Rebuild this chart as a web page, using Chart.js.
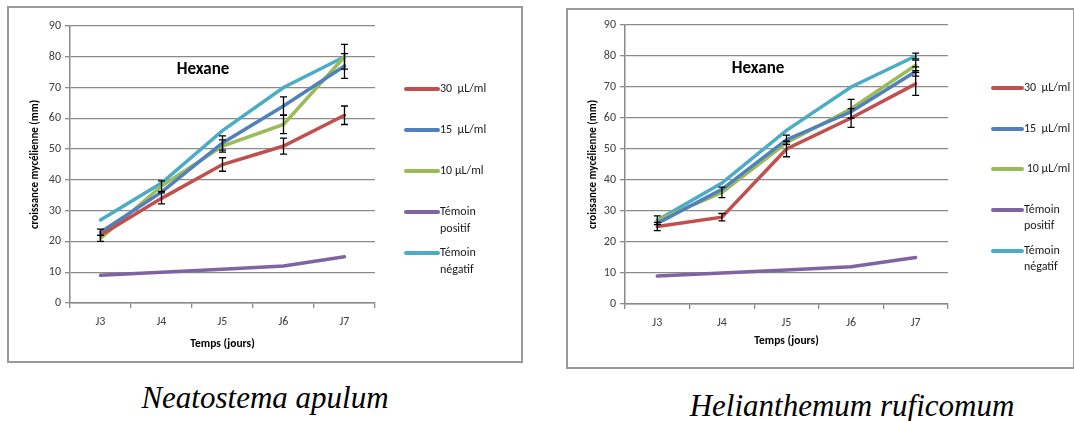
<!DOCTYPE html>
<html>
<head>
<meta charset="utf-8">
<script src="https://cdn.jsdelivr.net/npm/chart.js@4.4.0/dist/chart.umd.min.js"></script>
<style>
  body { margin: 0; background: #fff; width: 1074px; height: 421px; overflow: hidden; position: relative; }
  .frame { position: absolute; box-sizing: border-box; border: 2px solid #9a9a9a; }
  canvas { position: absolute; }
  .caption { position: absolute; font-family: "Liberation Serif", "DejaVu Serif", serif; font-style: italic; font-size: 31px; color: #000; white-space: nowrap; transform: translate(-50%, -50%); }
</style>
</head>
<body>
<div class="frame" style="left:7px;top:6px;width:516px;height:357px"></div>
<div class="frame" style="left:566px;top:8px;width:509px;height:361px"></div>
<canvas id="chartApulum" width="512" height="353" style="left:9px;top:8px"></canvas>
<canvas id="chartRuficomum" width="504" height="356" style="left:568px;top:10px"></canvas>
<div class="caption" style="left:265px;top:398px">Neatostema apulum</div>
<div class="caption" style="left:852px;top:406px">Helianthemum ruficomum</div>
<script>
// jours
const days = ['J3', 'J4', 'J5', 'J6', 'J7'];
const yMin = 0, yMax = 90, yStep = 10;

// Neatostema apulum
const apulum30 = [22, 34, 45, 51, 61];
const apulum15 = [23, 36, 52, 64, 77];
const apulum10 = [21, 38, 51, 58, 80];
const apulumPos = [9, 10, 11, 12, 15];
const apulumNeg = [27, 39, 56, 70, 80];
const apulumErr30 = [0, 1.8, 2.2, 2.6, 3];
const apulumErr15 = [1, 0, 2.3, 3, 4];
const apulumErr10 = [1, 1.7, 2, 3, 4];

// Helianthemum ruficomum
const rufi30 = [25, 28, 50, 60, 71];
const rufi15 = [26, 37, 53, 62, 75];
const rufi10 = [27, 36, 52, 63, 77];
const rufiPos = [9, 10, 11, 12, 15];
const rufiNeg = [27, 39, 56, 70, 80];
const rufiErr30 = [1.3, 1.2, 2.5, 3, 3.7];
const rufiErr15 = [0, 0, 1.5, 0, 1.5];
const rufiErr10 = [1.4, 1.7, 0, 3, 1.7];
const rufiErrNeg = [0, 0, 0, 0, 0.9];

const colors = ['#C0504D', '#4F81BD', '#9BBB59', '#8064A2', '#4BACC6'];
const fontSans = 'Carlito, "Liberation Sans", Arial, sans-serif';

// barres d'erreur
const errorBars = {
    id: 'errorBars',
    afterDatasetsDraw(chart) {
        const ctx = chart.ctx;
        const xs = chart.scales.x, ys = chart.scales.y;
        ctx.save();
        ctx.strokeStyle = '#000';
        ctx.lineWidth = 1.3;
        chart.data.datasets.forEach(ds => {
            if (!ds.err) return;
            ds.data.forEach((v, i) => {
                const e = ds.err[i];
                if (!e) return;
                const x = xs.getPixelForValue(i);
                const y1 = ys.getPixelForValue(v + e);
                const y2 = ys.getPixelForValue(v - e);
                ctx.beginPath();
                ctx.moveTo(x, y1); ctx.lineTo(x, y2);
                ctx.moveTo(x - 3.5, y1); ctx.lineTo(x + 3.5, y1);
                ctx.moveTo(x - 3.5, y2); ctx.lineTo(x + 3.5, y2);
                ctx.stroke();
            });
        });
        ctx.restore();
    }
};

// titre "Hexane" + légende
const extras = {
    id: 'extras',
    afterDraw(chart, args, opts) {
        const ctx = chart.ctx;
        const area = chart.chartArea;
        ctx.save();
        ctx.fillStyle = '#000';
        ctx.font = 'bold 17px ' + fontSans;
        ctx.textAlign = 'center';
        ctx.textBaseline = 'middle';
        ctx.fillText('Hexane', area.left + opts.titleDx, area.top + opts.titleDy);

        ctx.textAlign = 'left';
        ctx.font = '12px ' + fontSans;
        chart.data.datasets.forEach((ds, i) => {
            const y = opts.rows[i];
            ctx.strokeStyle = ds.borderColor;
            ctx.lineWidth = 4;
            ctx.lineCap = 'round';
            ctx.beginPath();
            ctx.moveTo(opts.x1, y);
            ctx.lineTo(opts.x2, y);
            ctx.stroke();
            ctx.fillStyle = '#1a1a1a';
            ds.legendLines.forEach((t, k) => ctx.fillText(t, opts.x2 + 2, y + k * opts.lineGap));
        });
        ctx.restore();
    }
};

function makeChart(id, series, errs, legendLabels, cfg) {
    const names = ['30 µL/ml', '15 µL/ml', '10 µL/ml', 'Témoin positif', 'Témoin négatif'];
    const datasets = series.map((s, i) => ({
        label: names[i],
        legendLines: legendLabels[i],
        data: s,
        err: errs[i],
        borderColor: colors[i],
        backgroundColor: colors[i],
        borderWidth: 3.5,
        pointRadius: 0,
        tension: 0,
        borderCapStyle: 'round'
    }));
    return new Chart(document.getElementById(id), {
        type: 'line',
        data: { labels: days, datasets: datasets },
        plugins: [errorBars, extras],
        options: {
            responsive: false,
            animation: false,
            layout: { padding: cfg.padding },
            plugins: {
                legend: { display: false },
                tooltip: { enabled: false },
                extras: cfg.extras
            },
            scales: {
                x: {
                    offset: true,
                    afterFit: s => { s.height = 50; },
                    grid: { display: true, offset: true, drawOnChartArea: false, drawTicks: true, tickLength: 5, color: '#8a8a8a', lineWidth: 1.3 },
                    border: { color: '#8a8a8a', width: 1.5 },
                    ticks: { color: '#404040', font: { family: fontSans, size: 12 }, padding: 7 },
                    title: { display: true, text: 'Temps (jours)', color: '#000', font: { family: fontSans, size: 11.5, weight: 'bold' }, padding: { top: 0, bottom: cfg.xTitlePad } }
                },
                y: {
                    min: yMin, max: yMax,
                    afterFit: s => { s.width = cfg.yWidth; },
                    grid: { color: '#8a8a8a', lineWidth: 1.3, tickLength: 5 },
                    border: { color: '#8a8a8a', width: 1.5 },
                    ticks: { stepSize: yStep, color: '#404040', font: { family: fontSans, size: 12 }, padding: 4 },
                    title: { display: true, text: 'croissance mycélienne (mm)', color: '#000', font: { family: fontSans, size: 11, weight: 'bold' }, padding: { top: cfg.yTitlePad, bottom: 0 } }
                }
            }
        }
    });
}

makeChart('chartApulum',
    [apulum30, apulum15, apulum10, apulumPos, apulumNeg],
    [apulumErr30, apulumErr15, apulumErr10, null, null],
    [['30  µL/ml'], ['15  µL/ml'], ['10 µL/ml'], ['Témoin', 'positif'], ['Témoin', 'négatif']],
    {
        padding: { left: 11, right: 146, top: 18, bottom: 8 },
        yWidth: 50, xTitlePad: 2.4, yTitlePad: 8.4,
        extras: { titleDx: 133, titleDy: 44, x1: 397, x2: 429, rows: [81, 122, 163, 204, 245], lineGap: 17 }
    });

makeChart('chartRuficomum',
    [rufi30, rufi15, rufi10, rufiPos, rufiNeg],
    [rufiErr30, rufiErr15, rufiErr10, null, rufiErrNeg],
    [['30  µL/ml'], ['15  µL/ml'], [' 10 µL/ml'], ['Témoin', 'positif'], ['Témoin', 'négatif']],
    {
        padding: { left: 9, right: 124, top: 15, bottom: 12 },
        yWidth: 48, xTitlePad: 6.4, yTitlePad: 9.4,
        extras: { titleDx: 133, titleDy: 44, x1: 425, x2: 454, rows: [78, 119, 159, 200, 241], lineGap: 16 }
    });
</script>
</body>
</html>
